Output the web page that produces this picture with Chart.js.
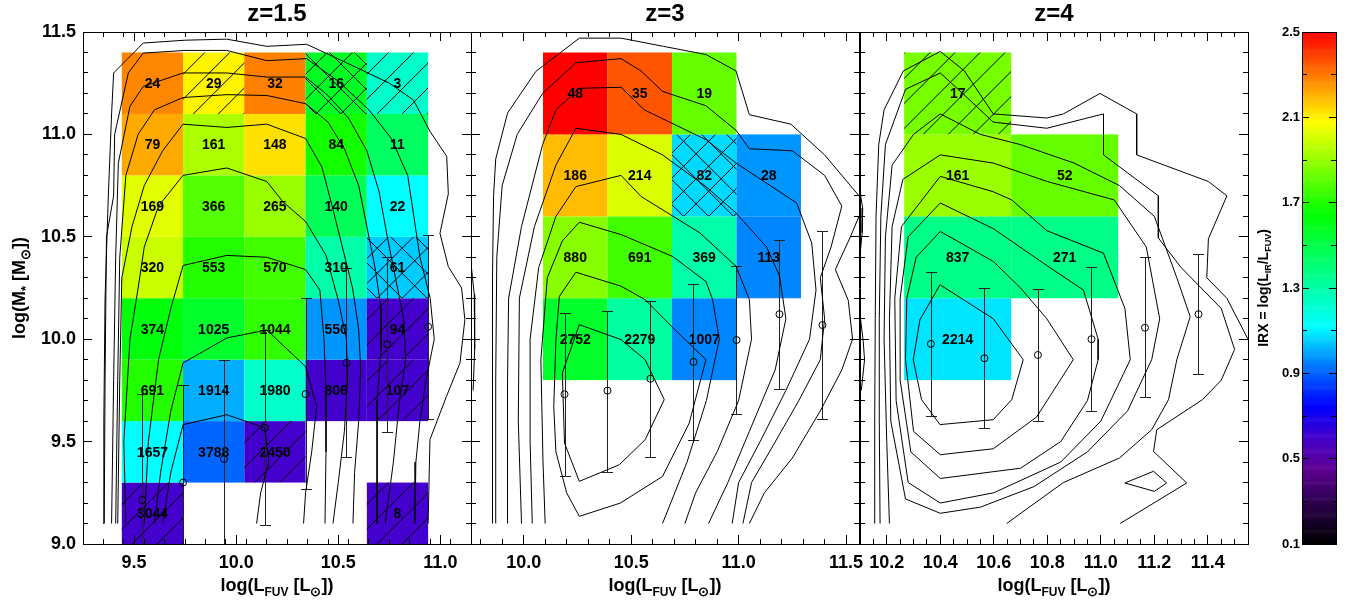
<!DOCTYPE html>
<html><head><meta charset="utf-8">
<script src="https://cdn.jsdelivr.net/npm/chart.js@4.4.1/dist/chart.umd.min.js"></script>
<style>
html,body{margin:0;padding:0;background:#fff;}
#wrap{position:relative;width:1346px;height:601px;overflow:hidden;background:#fff;}
canvas{position:absolute;left:0;top:0;}
</style></head><body><div id="wrap">
<canvas id="c1" width="1346" height="601"></canvas>
<canvas id="c2" width="1346" height="601"></canvas>
<canvas id="c3" width="1346" height="601"></canvas>
<canvas id="cb" width="1346" height="601"></canvas>
</div>
<script>
// ---------------- DATA ----------------
const yMajor = [9.0, 9.5, 10.0, 10.5, 11.0, 11.5];
const p1XMajor = [9.5, 10.0, 10.5, 11.0];
const p2XMajor = [10.0, 10.5, 11.0, 11.5];
const p3XMajor = [10.2, 10.4, 10.6, 10.8, 11.0, 11.2, 11.4];
const cbMajor = [0.1, 0.5, 0.9, 1.3, 1.7, 2.1, 2.5];
const cbMinor = [0.3, 0.7, 1.1, 1.5, 1.9, 2.3];

// colour table: [IRX, r, g, b]
const cmapStops = [[0.10,0,0,0],[0.30,45,0,80],[0.45,95,0,145],[0.60,68,0,204],[0.75,0,0,255],[0.95,0,128,255],[1.12,0,255,255],[1.65,0,255,0],[2.08,255,255,0],[2.50,255,0,0]];

// ---- panel z=1.5 ----
const p1XEdges = [9.44, 9.74, 10.04, 10.34, 10.64, 10.94];
const p1YEdges = [9.0, 9.3, 9.6, 9.9, 10.2, 10.5, 10.8, 11.1, 11.4];
const p1Counts = [
  [3044, null, null, null, 8],
  [1657, 3788, 2450, null, null],
  [691, 1914, 1980, 806, 107],
  [374, 1025, 1044, 550, 94],
  [320, 553, 570, 310, 61],
  [169, 366, 265, 140, 22],
  [79, 161, 148, 84, 11],
  [24, 29, 32, 16, 3]
];
const p1Irx = [
  [0.60, null, null, null, 0.60],
  [1.12, 0.91, 0.60, null, null],
  [1.71, 1.01, 1.23, 0.60, 0.60],
  [1.63, 1.56, 1.73, 0.98, 0.60],
  [1.99, 1.71, 1.76, 1.30, 1.05],
  [2.03, 1.79, 1.91, 1.47, 1.12],
  [2.22, 1.94, 2.13, 1.68, 1.45],
  [2.28, 2.10, 2.29, 1.58, 1.23]
];
const p1Hatch = [
  ['/', null, null, null, '/'],
  [null, null, '/', null, null],
  [null, null, null, null, '/'],
  [null, null, null, null, '/'],
  [null, null, null, null, 'x'],
  [null, null, null, null, null],
  [null, null, null, null, null],
  [null, '/', null, 'x', '/']
];
const p1MeanX = [9.54, 9.74, 9.94, 10.14, 10.34, 10.54, 10.74, 10.94];
const p1MeanY = [9.215, 9.30, 9.415, 9.568, 9.732, 9.885, 9.975, 10.061];
const p1ErrHi = [9.731, 9.778, 9.897, 10.045, 10.20, 10.346, 10.403, 10.509];
const p1ErrLo = [8.70, 8.82, 8.93, 9.093, 9.269, 9.426, 9.545, 9.61];
const p1Contours = [
  [[9.349,9.10],[9.352,9.60],[9.358,10.20],[9.374,10.70],[9.39,11.10],[9.40,11.30],[9.545,11.446],[9.75,11.46],[9.954,11.465],[10.15,11.43],[10.345,11.44],[10.54,11.35],[10.75,11.25],[10.868,11.168],[10.949,11.015],[11.031,10.893],[11.039,10.71],[10.998,10.517],[11.039,10.354],[11.104,10.25],[11.12,10.095],[11.096,9.884],[11.03,9.721],[10.949,9.51],[10.94,9.10]],
  [[9.354,9.10],[9.358,9.80],[9.365,10.50],[9.40,10.70],[9.405,11.00],[9.472,11.30],[9.545,11.397],[9.75,11.41],[9.954,11.41],[10.15,11.36],[10.345,11.37],[10.50,11.26],[10.65,11.12],[10.76,10.98],[10.84,10.80],[10.87,10.60],[10.90,10.40],[10.95,10.20],[10.97,10.0],[10.93,9.80],[10.90,9.60],[10.88,9.40],[10.876,9.10]],
  [[9.39,9.10],[9.40,9.80],[9.41,10.40],[9.423,10.86],[9.48,11.137],[9.545,11.234],[9.74,11.30],[9.954,11.30],[10.15,11.28],[10.34,11.28],[10.45,11.19],[10.55,11.08],[10.64,10.92],[10.70,10.72],[10.74,10.50],[10.78,10.30],[10.82,10.10],[10.83,9.90],[10.80,9.70],[10.77,9.40],[10.73,9.10]],
  [[9.41,9.10],[9.42,9.80],[9.43,10.40],[9.46,10.80],[9.52,11.00],[9.60,11.12],[9.74,11.18],[9.954,11.194],[10.15,11.19],[10.34,11.15],[10.45,11.06],[10.53,10.93],[10.60,10.75],[10.64,10.55],[10.68,10.35],[10.71,10.15],[10.71,9.95],[10.69,9.70],[10.69,9.40],[10.69,9.10]],
  [[9.42,9.10],[9.43,9.80],[9.44,10.30],[9.49,10.55],[9.55,10.75],[9.64,10.92],[9.74,11.05],[9.954,11.034],[10.15,11.05],[10.34,10.98],[10.42,10.84],[10.47,10.65],[10.52,10.45],[10.57,10.25],[10.60,10.05],[10.61,9.85],[10.60,9.60],[10.58,9.35],[10.572,9.10]],
  [[9.46,9.10],[9.45,9.50],[9.48,10.0],[9.52,10.25],[9.55,10.45],[9.62,10.65],[9.74,10.80],[9.954,10.836],[10.15,10.77],[10.23,10.67],[10.34,10.575],[10.44,10.41],[10.50,10.19],[10.54,10.0],[10.545,9.80],[10.53,9.55],[10.50,9.30],[10.474,9.10]],
  [[9.55,9.10],[9.57,9.50],[9.62,9.90],[9.68,10.15],[9.74,10.36],[9.954,10.409],[10.15,10.40],[10.34,10.34],[10.41,10.24],[10.43,10.0],[10.44,9.75],[10.44,9.45],[10.435,9.10]],
  [[9.60,9.10],[9.63,9.35],[9.68,9.65],[9.74,9.884],[9.954,10.006],[10.15,10.045],[10.34,9.866],[10.394,9.672],[10.37,9.45],[10.34,9.25],[10.33,9.10]],
  [[9.64,9.10],[9.68,9.35],[9.74,9.583],[9.954,9.631],[10.14,9.568],[10.16,9.40],[10.12,9.25],[10.10,9.10]]
];

// ---- panel z=3 ----
const p2XEdges = [10.09, 10.39, 10.69, 10.99, 11.29];
const p2YEdges = [9.8, 10.2, 10.6, 11.0, 11.4];
const p2Counts = [
  [2752, 2279, 1007, null],
  [880, 691, 369, 113],
  [186, 214, 82, 28],
  [48, 35, 19, null]
];
const p2Irx = [
  [1.56, 1.32, 0.96, null],
  [1.88, 1.76, 1.30, 0.96],
  [2.19, 2.02, 1.07, 0.98],
  [2.50, 2.36, 1.82, null]
];
const p2Hatch = [
  [null, null, null, null],
  [null, null, null, null],
  [null, null, 'x', null],
  [null, null, null, null]
];
const p2MeanX = [10.19, 10.39, 10.59, 10.79, 10.99, 11.19, 11.39];
const p2MeanY = [9.731, 9.749, 9.807, 9.889, 9.996, 10.122, 10.069];
const p2ErrHi = [10.126, 10.139, 10.188, 10.268, 10.357, 10.484, 10.528];
const p2ErrLo = [9.334, 9.353, 9.423, 9.509, 9.635, 9.757, 9.609];
const p2Contours = [
  [[9.855,9.10],[9.855,9.70],[9.855,10.30],[9.86,10.70],[9.87,10.88],[9.925,11.104],[10.057,11.308],[10.259,11.47],[10.453,11.47],[10.65,11.43],[10.848,11.39],[10.988,11.31],[11.05,11.096],[11.243,11.05],[11.40,10.90],[11.56,10.70]],
  [[11.56,10.60],[11.52,10.50],[11.45,10.34],[11.51,10.19],[11.53,10.00],[11.48,9.85],[11.38,9.65],[11.25,9.42],[11.12,9.25],[11.05,9.10]],
  [[9.87,9.10],[9.87,9.80],[9.875,10.40],[9.90,10.75],[9.97,11.00],[10.088,11.20],[10.243,11.35],[10.453,11.37],[10.546,11.31],[10.646,11.21],[10.848,11.14],[10.988,11.02],[11.05,10.93],[11.25,10.92],[11.40,10.80],[11.48,10.65],[11.43,10.45],[11.38,10.30],[11.40,10.10],[11.38,9.90],[11.28,9.70],[11.16,9.48],[11.06,9.30],[11.02,9.10]],
  [[9.925,9.10],[9.925,9.80],[9.93,10.20],[9.99,10.55],[10.088,10.95],[10.15,11.12],[10.259,11.225],[10.453,11.23],[10.561,11.12],[10.848,10.974],[10.988,10.86],[11.27,10.665],[11.34,10.47],[11.36,10.24],[11.33,10.0],[11.22,9.75],[11.10,9.50],[11.0,9.30],[10.97,9.10]],
  [[9.99,9.10],[9.975,9.60],[9.98,10.20],[10.05,10.55],[10.15,10.85],[10.243,11.03],[10.453,11.0],[10.646,10.90],[10.848,10.745],[10.988,10.616],[11.13,10.45],[11.19,10.31],[11.22,10.10],[11.17,9.85],[11.05,9.55],[10.95,9.30],[10.86,9.10]],
  [[10.04,9.10],[10.03,9.50],[10.03,10.0],[10.07,10.35],[10.15,10.60],[10.243,10.745],[10.453,10.80],[10.546,10.697],[10.82,10.519],[10.988,10.356],[11.05,10.193],[11.06,10.0],[11.0,9.70],[10.90,9.45],[10.80,9.25],[10.75,9.10]],
  [[10.10,9.10],[10.09,9.40],[10.08,9.90],[10.11,10.30],[10.18,10.48],[10.259,10.571],[10.453,10.511],[10.693,10.404],[10.848,10.282],[10.879,10.193],[10.91,10.0],[10.85,9.70],[10.76,9.40],[10.646,9.10]],
  [[10.166,10.209],[10.243,10.327],[10.453,10.259],[10.565,10.193],[10.70,10.05],[10.848,9.90],[10.77,9.59],[10.646,9.33],[10.45,9.20],[10.259,9.135],[10.20,9.25],[10.15,9.45],[10.14,9.67],[10.15,9.998],[10.166,10.209]],
  [[10.259,10.071],[10.453,9.998],[10.565,9.90],[10.654,9.705],[10.565,9.509],[10.445,9.387],[10.259,9.306],[10.19,9.493],[10.18,9.835],[10.259,10.071]],
  [[9.757,10.35],[9.77,10.22],[9.772,9.95],[9.765,9.75]]
];

// ---- panel z=4 ----
const p3XEdges = [10.265, 10.665, 11.065];
const p3YEdges = [9.8, 10.2, 10.6, 11.0, 11.4];
const p3Counts = [
  [2214, null],
  [837, 271],
  [161, 52],
  [17, null]
];
const p3Irx = [
  [1.085, null],
  [1.37, 1.37],
  [1.91, 1.82],
  [1.85, null]
];
const p3Hatch = [
  [null, null],
  [null, null],
  [null, null],
  ['/', null]
];
const p3MeanX = [10.365, 10.565, 10.765, 10.965, 11.165, 11.365];
const p3MeanY = [9.977, 9.907, 9.923, 10.0, 10.056, 10.122];
const p3ErrHi = [10.33, 10.249, 10.244, 10.351, 10.40, 10.415];
const p3ErrLo = [9.625, 9.568, 9.602, 9.651, 9.716, 9.829];
const p3Contours = [
  [[10.155,9.10],[10.155,9.60],[10.157,10.10],[10.16,10.60],[10.17,10.95],[10.19,11.12],[10.262,11.31],[10.40,11.405],[10.49,11.31],[10.598,11.10],[10.798,11.08],[10.86,11.10],[10.997,11.20],[11.134,11.10],[11.134,10.90],[11.402,10.77],[11.471,10.70],[11.402,10.49],[11.396,10.30],[11.471,10.20],[11.55,10.0]],
  [[10.175,9.10],[10.172,9.60],[10.172,10.10],[10.178,10.60],[10.195,10.95],[10.27,11.22],[10.40,11.30],[10.50,11.18],[10.598,11.06],[10.798,11.03],[11.01,11.10],[11.01,10.90],[11.215,10.70],[11.215,10.494],[11.30,10.35],[11.45,10.15],[11.50,9.95],[11.45,9.80],[11.38,9.705],[11.209,9.558],[11.197,9.452],[11.321,9.298],[11.072,9.10]],
  [[10.21,9.10],[10.20,9.50],[10.19,10.0],[10.195,10.50],[10.22,10.85],[10.30,11.0],[10.40,11.10],[10.55,11.00],[10.70,10.95],[10.90,10.86],[11.07,10.75],[11.20,10.60],[11.284,10.30],[11.334,10.11],[11.284,9.90],[11.253,9.705],[11.19,9.558],[11.07,9.42],[10.86,9.30],[10.648,9.10]],
  [[10.40,10.90],[10.598,10.86],[10.80,10.77],[11.05,10.68],[11.17,10.45],[11.22,10.10],[11.19,9.90],[11.10,9.65],[10.95,9.45],[10.75,9.28],[10.55,9.18],[10.40,9.15],[10.27,9.22],[10.215,9.60],[10.21,10.10],[10.22,10.55],[10.26,10.78],[10.40,10.90]],
  [[10.40,10.795],[10.598,10.72],[10.667,10.68],[10.798,10.53],[11.01,10.42],[11.09,10.15],[11.11,9.90],[11.0,9.60],[10.85,9.40],[10.60,9.25],[10.40,9.20],[10.28,9.30],[10.235,9.70],[10.23,10.20],[10.255,10.55],[10.40,10.795]],
  [[10.40,10.665],[10.598,10.54],[10.798,10.36],[10.935,10.24],[10.99,10.0],[10.99,9.90],[10.95,9.70],[10.85,9.50],[10.70,9.37],[10.40,9.32],[10.29,9.45],[10.25,9.80],[10.25,10.20],[10.28,10.50],[10.40,10.665]],
  [[10.40,10.526],[10.598,10.38],[10.70,10.25],[10.798,10.10],[10.897,9.90],[10.76,9.62],[10.598,9.465],[10.40,9.436],[10.30,9.55],[10.27,9.90],[10.275,10.20],[10.31,10.40],[10.40,10.526]],
  [[10.399,10.266],[10.49,10.19],[10.598,10.10],[10.71,9.90],[10.667,9.705],[10.598,9.607],[10.399,9.583],[10.33,9.705],[10.299,9.90],[10.324,10.095],[10.399,10.266]],
  [[11.09,9.298],[11.197,9.355],[11.246,9.298],[11.20,9.257],[11.09,9.298]],
  [[10.10,10.72],[10.11,10.64],[10.108,10.52],[10.10,10.41]],
  [[10.10,10.12],[10.112,9.99],[10.117,9.90],[10.105,9.75]]
];

// ---------------- RENDERING ----------------
const FONT = '"Liberation Sans", Arial, Helvetica, sans-serif';
Chart.defaults.font.family = FONT;
Chart.defaults.color = '#000';

function irxColor(v) {
  if (v <= cmapStops[0][0]) return 'rgb(' + cmapStops[0].slice(1).join(',') + ')';
  for (let i = 1; i < cmapStops.length; i++) {
    const a = cmapStops[i - 1], b = cmapStops[i];
    if (v <= b[0]) {
      const t = (v - a[0]) / (b[0] - a[0]);
      const c = [1, 2, 3].map(k => Math.round(a[k] + (b[k] - a[k]) * t));
      return 'rgb(' + c.join(',') + ')';
    }
  }
  const l = cmapStops[cmapStops.length - 1];
  return 'rgb(' + l.slice(1).join(',') + ')';
}

function drawRich(ctx, parts, x, y, rot) {
  ctx.save();
  ctx.translate(x, y);
  if (rot) ctx.rotate(rot);
  let total = 0;
  const ws = parts.map(p => { ctx.font = 'bold ' + p[1] + 'px ' + FONT; const w = ctx.measureText(p[0]).width; total += w; return w; });
  let cx = -total / 2;
  const base = parts[0][1] * 0.36;
  ctx.fillStyle = '#000';
  ctx.textAlign = 'left';
  ctx.textBaseline = 'alphabetic';
  parts.forEach((p, i) => { ctx.font = 'bold ' + p[1] + 'px ' + FONT; ctx.fillText(p[0], cx, base + p[2]); cx += ws[i]; });
  ctx.restore();
}

const xTitleParts = [['log(L', 18, 0], ['FUV', 12, 5], [' [L', 18, 0], ['\u2299', 13, 5], ['])', 18, 0]];
const yTitleParts = [['log(M', 18, 0], ['*', 13, 5], [' [M', 18, 0], ['\u2299', 13, 5], ['])', 18, 0]];
const cbTitleParts = [['IRX = log(L', 14, 0], ['IR', 9, 3], ['/L', 14, 0], ['FUV', 9, 3], [')', 14, 0]];

function scale(axis, position, min, max, o) {
  const horiz = axis === 'x';
  const s = {
    type: 'linear', axis: axis, position: position, min: min, max: max, display: true, weight: o.weight || 0,
    ticks: { display: !!o.labels, autoSkip: false, includeBounds: false, maxRotation: 0, minRotation: 0,
      padding: o.pad || 0, color: '#000', font: { family: FONT, size: o.fontSize || 18, weight: 'bold' },
      callback: v => Number(v).toFixed(1) },
    grid: { display: o.noTicks ? false : true, drawOnChartArea: false, drawTicks: true, tickLength: -(o.tl || 0), color: '#000', lineWidth: 1, z: 1 },
    border: { display: !!o.border, color: '#000', width: 1, z: 1 },
    afterFit: sc => { if (horiz) sc.height = o.size || 0; else sc.width = o.size || 0; }
  };
  if (o.step) s.ticks.stepSize = o.step;
  if (o.values) s.afterBuildTicks = sc => { sc.ticks = o.values.map(v => ({ value: v })); };
  return s;
}

function makePanelPlugin(P) {
  return {
    id: 'panel_' + P.id,
    beforeDatasetsDraw(chart) {
      const ctx = chart.ctx, xs = chart.scales.x, ys = chart.scales.y, ca = chart.chartArea;
      ctx.save();
      ctx.beginPath(); ctx.rect(ca.left, ca.top, ca.right - ca.left, ca.bottom - ca.top); ctx.clip();
      const cells = [];
      for (let r = 0; r < P.counts.length; r++) {
        for (let c = 0; c < P.counts[r].length; c++) {
          const n = P.counts[r][c];
          if (n === null) continue;
          const x0 = xs.getPixelForValue(P.xEdges[c]), x1 = xs.getPixelForValue(P.xEdges[c + 1]);
          const yb = ys.getPixelForValue(P.yEdges[r]), yt = ys.getPixelForValue(P.yEdges[r + 1]);
          ctx.fillStyle = irxColor(P.irx[r][c]);
          ctx.fillRect(x0, yt, x1 - x0, yb - yt);
          cells.push([n, x0, x1, yb, yt, P.hatch[r][c]]);
        }
      }
      cells.forEach(([n, x0, x1, yb, yt, h]) => {
        if (!h) return;
        ctx.save();
        ctx.beginPath(); ctx.rect(x0, yt, x1 - x0, yb - yt); ctx.clip();
        ctx.strokeStyle = '#000'; ctx.lineWidth = 1;
        ctx.beginPath();
        const L = (yb - yt) + (x1 - x0);
        for (let k = -L + 8; k <= 2 * L; k += 25) {
          ctx.moveTo(x0 + k, yb); ctx.lineTo(x0 + k + L, yb - L);
          if (h === 'x') { ctx.moveTo(x0 + k, yb); ctx.lineTo(x0 + k - L, yb - L); }
        }
        ctx.stroke();
        ctx.restore();
      });
      ctx.fillStyle = '#000';
      ctx.font = 'bold 14px ' + FONT;
      ctx.textAlign = 'center';
      ctx.textBaseline = 'middle';
      cells.forEach(([n, x0, x1, yb, yt]) => ctx.fillText(String(n), (x0 + x1) / 2, (yb + yt) / 2 + 1));
      // error bars
      ctx.strokeStyle = '#222'; ctx.lineWidth = 1;
      ctx.beginPath();
      for (let i = 0; i < P.meanX.length; i++) {
        const px = Math.round(xs.getPixelForValue(P.meanX[i])) + 0.5;
        const hi = Math.round(ys.getPixelForValue(P.errHi[i])) + 0.5;
        const lo = Math.round(ys.getPixelForValue(P.errLo[i])) + 0.5;
        ctx.moveTo(px, hi); ctx.lineTo(px, lo);
        ctx.moveTo(px - 5.5, hi); ctx.lineTo(px + 5.5, hi);
        ctx.moveTo(px - 5.5, lo); ctx.lineTo(px + 5.5, lo);
      }
      ctx.stroke();
      ctx.restore();
    },
    afterDraw(chart) {
      const ca = chart.chartArea, ctx = chart.ctx;
      drawRich(ctx, xTitleParts, (ca.left + ca.right) / 2, 585, 0);
      if (P.yLabels) drawRich(ctx, yTitleParts, 19, 288, -Math.PI / 2);
    }
  };
}

function makePanel(P) {
  const datasets = P.contours.map(c => ({
    type: 'line', data: c.map(pt => ({ x: pt[0], y: pt[1] })), borderColor: '#000', borderWidth: 1,
    pointRadius: 0, fill: false, tension: 0, showLine: true, clip: 0, xAxisID: 'x', yAxisID: 'y', order: 2
  }));
  datasets.push({
    type: 'scatter', data: P.meanX.map((x, i) => ({ x: x, y: P.meanY[i] })), pointStyle: 'circle', pointRadius: 3.5,
    borderColor: '#000', borderWidth: 1, backgroundColor: 'rgba(0,0,0,0)', showLine: false, clip: 0,
    xAxisID: 'x', yAxisID: 'y', order: 1
  });
  return new Chart(document.getElementById(P.id), {
    type: 'scatter',
    data: { datasets: datasets },
    options: {
      responsive: false, animation: false, events: [],
      layout: { padding: { left: P.padL, right: P.padR, top: 0, bottom: 0 } },
      plugins: {
        legend: { display: false }, tooltip: { enabled: false },
        title: { display: true, text: P.title, fullSize: false, color: '#000',
          font: { family: FONT, size: 24, weight: 'bold', lineHeight: 1 }, padding: { top: 2, bottom: 6 } }
      },
      scales: {
        x: scale('x', 'bottom', P.xMin, P.xMax, { values: P.xMajor, labels: true, pad: 17, tl: 9, border: true, size: 57, weight: 1 }),
        xm: scale('x', 'bottom', P.xMin, P.xMax, { step: P.xMinorStep, tl: 5, size: 0, weight: 0 }),
        xt: scale('x', 'top', P.xMin, P.xMax, { values: P.xMajor, tl: 9, border: true, size: 0, weight: 0 }),
        xtm: scale('x', 'top', P.xMin, P.xMax, { step: P.xMinorStep, tl: 5, size: 0, weight: 0 }),
        y: scale('y', 'left', 9.0, 11.5, { values: yMajor, labels: P.yLabels, pad: 16, tl: 9, border: true, size: P.yLabels ? 83 : 0, weight: 1 }),
        ym: scale('y', 'left', 9.0, 11.5, { step: 0.1, tl: 5, size: 0, weight: 0 }),
        yr: scale('y', 'right', 9.0, 11.5, { values: yMajor, tl: 9, border: true, size: 0, weight: 0 }),
        yrm: scale('y', 'right', 9.0, 11.5, { step: 0.1, tl: 5, size: 0, weight: 0 })
      }
    },
    plugins: [makePanelPlugin(P)]
  });
}

makePanel({ id: 'c1', title: 'z=1.5', xMin: 9.25, xMax: 11.15, xMajor: p1XMajor, xMinorStep: 0.1, padL: 0, padR: 875, yLabels: true,
  xEdges: p1XEdges, yEdges: p1YEdges, counts: p1Counts, irx: p1Irx, hatch: p1Hatch, contours: p1Contours,
  meanX: p1MeanX, meanY: p1MeanY, errHi: p1ErrHi, errLo: p1ErrLo });
makePanel({ id: 'c2', title: 'z=3', xMin: 9.755, xMax: 11.56, xMajor: p2XMajor, xMinorStep: 0.1, padL: 471, padR: 487, yLabels: false,
  xEdges: p2XEdges, yEdges: p2YEdges, counts: p2Counts, irx: p2Irx, hatch: p2Hatch, contours: p2Contours,
  meanX: p2MeanX, meanY: p2MeanY, errHi: p2ErrHi, errLo: p2ErrLo });
makePanel({ id: 'c3', title: 'z=4', xMin: 10.1, xMax: 11.55, xMajor: p3XMajor, xMinorStep: 0.05, padL: 860, padR: 98, yLabels: false,
  xEdges: p3XEdges, yEdges: p3YEdges, counts: p3Counts, irx: p3Irx, hatch: p3Hatch, contours: p3Contours,
  meanX: p3MeanX, meanY: p3MeanY, errHi: p3ErrHi, errLo: p3ErrLo });

// colour bar
const cbPlugin = {
  id: 'colorbar',
  beforeDatasetsDraw(chart) {
    const ctx = chart.ctx, ys = chart.scales.y, ca = chart.chartArea;
    const lo = ys.min, hi = ys.max, n = 480;
    for (let i = 0; i < n; i++) {
      const v0 = lo + (hi - lo) * i / n, v1 = lo + (hi - lo) * (i + 1) / n;
      const y0 = ys.getPixelForValue(v0), y1 = ys.getPixelForValue(v1);
      ctx.fillStyle = irxColor((v0 + v1) / 2);
      ctx.fillRect(ca.left, y1, ca.right - ca.left, y0 - y1 + 0.6);
    }
  },
  afterDraw(chart) {
    drawRich(chart.ctx, cbTitleParts, 1263, 288, -Math.PI / 2);
  }
};
new Chart(document.getElementById('cb'), {
  type: 'scatter',
  data: { datasets: [] },
  options: {
    responsive: false, animation: false, events: [],
    layout: { padding: { left: 1240, right: 10, top: 32, bottom: 57 } },
    plugins: { legend: { display: false }, tooltip: { enabled: false }, title: { display: false } },
    scales: {
      x: scale('x', 'bottom', 0, 1, { values: [], border: true, size: 0, noTicks: true }),
      xt: scale('x', 'top', 0, 1, { values: [], border: true, size: 0, noTicks: true }),
      y: scale('y', 'left', 0.1, 2.5, { values: cbMajor, labels: true, pad: 9, tl: 7, border: true, size: 62, weight: 1, fontSize: 13 }),
      ym: scale('y', 'left', 0.1, 2.5, { values: cbMinor, tl: 5, size: 0, weight: 0 }),
      yr: scale('y', 'right', 0.1, 2.5, { values: cbMajor, tl: 7, border: true, size: 0, weight: 0 }),
      yrm: scale('y', 'right', 0.1, 2.5, { values: cbMinor, tl: 5, size: 0, weight: 0 })
    }
  },
  plugins: [cbPlugin]
});
</script>
</body></html>
